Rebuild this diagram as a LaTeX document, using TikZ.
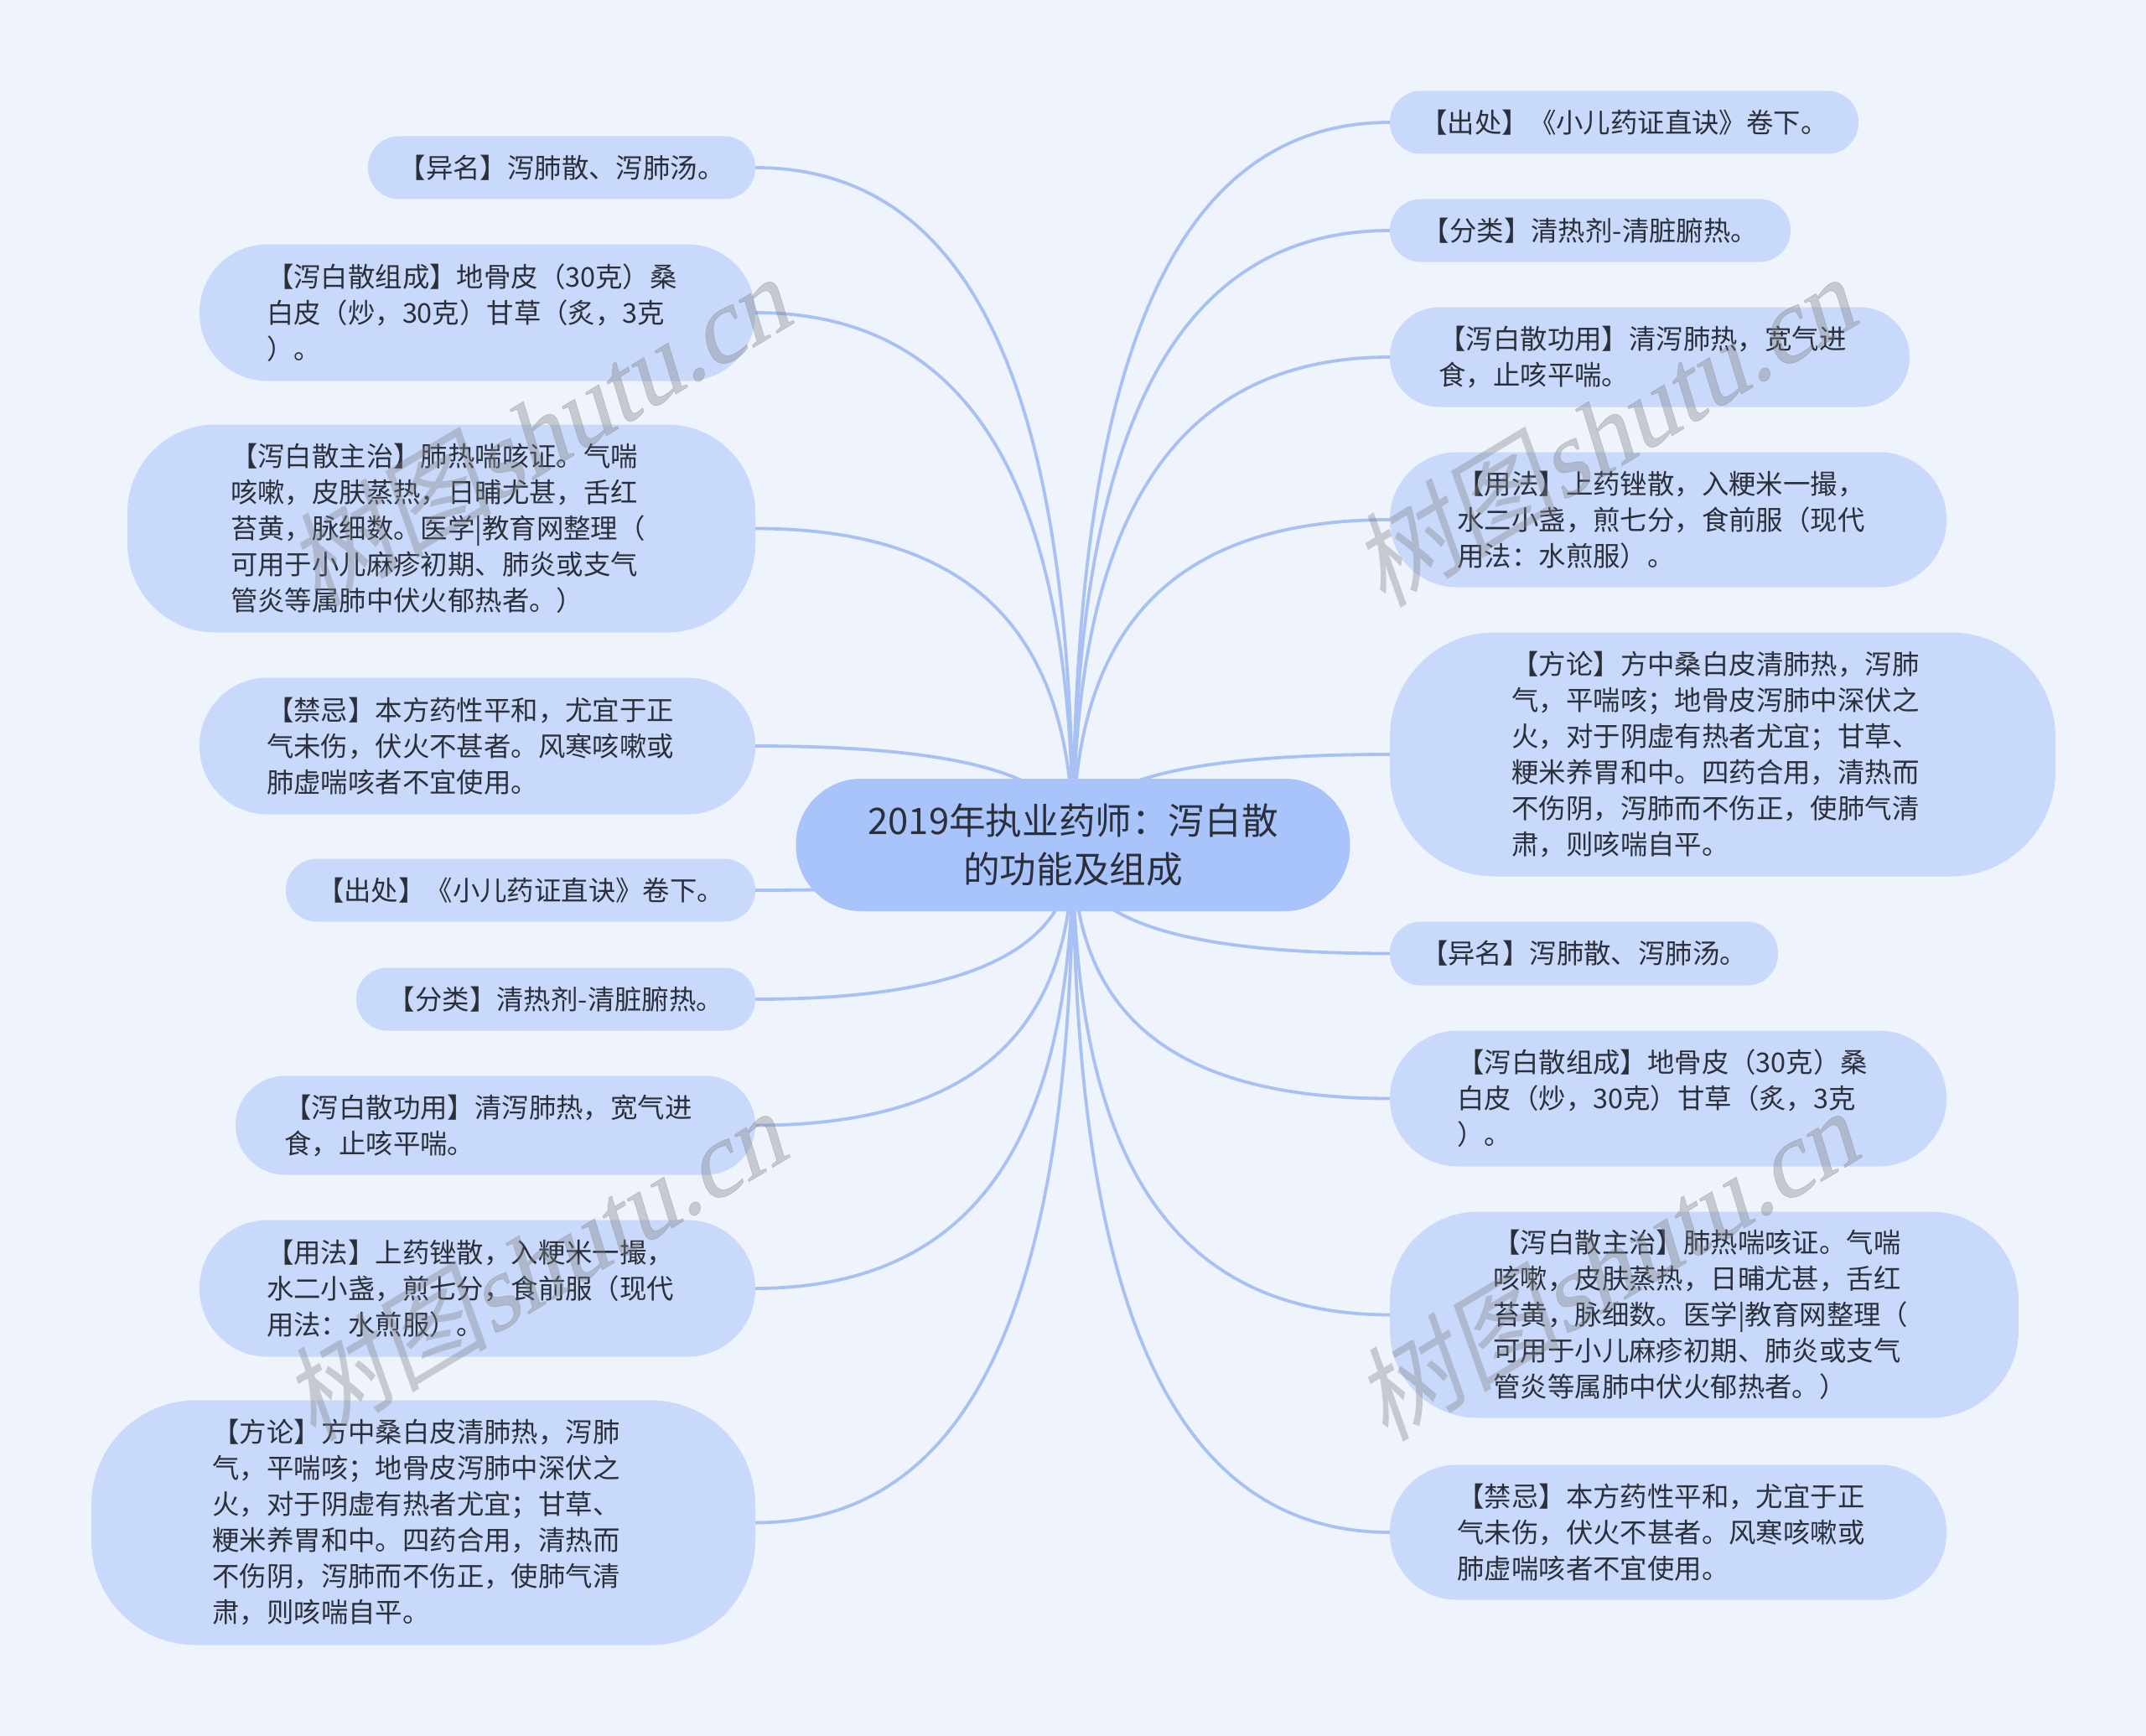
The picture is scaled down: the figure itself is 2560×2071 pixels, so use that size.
\documentclass[tikz,border=0pt]{standalone}
\usepackage{fontspec}
\setmainfont{Noto Sans CJK SC}
\newfontfamily\markcjk[FakeSlant=0.2]{Noto Sans CJK SC}
\newfontfamily\marklatin[FakeSlant=0.25,FakeBold=0.5]{Liberation Serif}
\usetikzlibrary{backgrounds,calc}
\definecolor{pagecol}{HTML}{EEF3FC}
\definecolor{leafcol}{HTML}{C9D9FB}
\definecolor{rootcol}{HTML}{A9C3FB}
\definecolor{linecol}{HTML}{A8C1F2}
\definecolor{inkcol}{HTML}{2B2F3A}
\newcommand{\stampword}{{\markcjk\fontsize{124}{124}\selectfont 树图}{\marklatin\fontsize{124}{124}\selectfont shutu.cn}}

\begin{document}
\begin{tikzpicture}[x=1pt, y=-1pt,
    leaf/.style={fill=leafcol, text=inkcol, font=\fontsize{32.4}{43}\selectfont,
        align=left, inner sep=0pt, outer sep=0pt, yshift=-0.5pt, rounded corners=#1},
    leaf/.default=37pt,
    wrapped/.style={text width=503pt},
    rootbox/.style={fill=rootcol, text=inkcol, font=\fontsize{43.6}{58}\selectfont,
        align=center, inner sep=0pt, outer sep=0pt, rounded corners=78pt,
        minimum width=661pt, minimum height=158pt},
    branch/.style={draw=linecol, line width=3.8pt},
    stamp/.style={text=black!50, opacity=0.36, rotate=31, inner sep=0pt},
    ]
    \useasboundingbox (0,0) rectangle (2560,2071);
    \node[rootbox] (root) at (1280,1008) {2019年执业药师：泻白散\\的功能及组成};

    % left side
    \node[leaf, minimum width=462pt, minimum height=75pt] (lAlias) at (670,199.5) {【异名】泻肺散、泻肺汤。};
    \node[leaf=81pt, wrapped, minimum width=663pt, minimum height=163pt] (lMix) at (569.5,372.5) {【泻白散组成】地骨皮（30克）桑\\白皮（炒，30克）甘草（炙，3克\\）。};
    \node[leaf=105pt, wrapped, minimum width=749pt, minimum height=248pt] (lCure) at (526.5,630) {【泻白散主治】肺热喘咳证。气喘\\咳嗽，皮肤蒸热，日晡尤甚，舌红\\苔黄，脉细数。医学|教育网整理（\\可用于小儿麻疹初期、肺炎或支气\\管炎等属肺中伏火郁热者。）};
    \node[leaf=81pt, wrapped, minimum width=663pt, minimum height=163pt] (lBan) at (569.5,889.5) {【禁忌】本方药性平和，尤宜于正\\气未伤，伏火不甚者。风寒咳嗽或\\肺虚喘咳者不宜使用。};
    \node[leaf, minimum width=560pt, minimum height=75pt] (lSource) at (621,1061.5) {【出处】《小儿药证直诀》卷下。};
    \node[leaf, minimum width=476pt, minimum height=75pt] (lKind) at (663,1191.5) {【分类】清热剂-清脏腑热。};
    \node[leaf=59pt, wrapped, minimum width=620pt, minimum height=118pt] (lUse) at (591,1342) {【泻白散功用】清泻肺热，宽气进\\食，止咳平喘。};
    \node[leaf=81pt, wrapped, minimum width=663pt, minimum height=163pt] (lHow) at (569.5,1536.5) {【用法】上药锉散，入粳米一撮，\\水二小盏，煎七分，食前服（现代\\用法：水煎服）。};
    \node[leaf=125pt, wrapped, minimum width=792pt, minimum height=292pt] (lTalk) at (505,1816) {【方论】方中桑白皮清肺热，泻肺\\气，平喘咳；地骨皮泻肺中深伏之\\火，对于阴虚有热者尤宜；甘草、\\粳米养胃和中。四药合用，清热而\\不伤阴，泻肺而不伤正，使肺气清\\肃，则咳喘自平。};

    % right side
    \node[leaf, minimum width=559pt, minimum height=75pt] (rSource) at (1937.5,145.5) {【出处】《小儿药证直诀》卷下。};
    \node[leaf, minimum width=478pt, minimum height=75pt] (rKind) at (1897,274.5) {【分类】清热剂-清脏腑热。};
    \node[leaf=59pt, wrapped, minimum width=620pt, minimum height=119pt] (rUse) at (1968,425.5) {【泻白散功用】清泻肺热，宽气进\\食，止咳平喘。};
    \node[leaf=80pt, wrapped, minimum width=664pt, minimum height=161pt] (rHow) at (1990,619.5) {【用法】上药锉散，入粳米一撮，\\水二小盏，煎七分，食前服（现代\\用法：水煎服）。};
    \node[leaf=125pt, wrapped, minimum width=794pt, minimum height=291pt] (rTalk) at (2055,899.5) {【方论】方中桑白皮清肺热，泻肺\\气，平喘咳；地骨皮泻肺中深伏之\\火，对于阴虚有热者尤宜；甘草、\\粳米养胃和中。四药合用，清热而\\不伤阴，泻肺而不伤正，使肺气清\\肃，则咳喘自平。};
    \node[leaf, minimum width=463pt, minimum height=76pt] (rAlias) at (1889.5,1137) {【异名】泻肺散、泻肺汤。};
    \node[leaf=81pt, wrapped, minimum width=664pt, minimum height=162pt] (rMix) at (1990,1310) {【泻白散组成】地骨皮（30克）桑\\白皮（炒，30克）甘草（炙，3克\\）。};
    \node[leaf=105pt, wrapped, minimum width=750pt, minimum height=246pt] (rCure) at (2033,1568) {【泻白散主治】肺热喘咳证。气喘\\咳嗽，皮肤蒸热，日晡尤甚，舌红\\苔黄，脉细数。医学|教育网整理（\\可用于小儿麻疹初期、肺炎或支气\\管炎等属肺中伏火郁热者。）};
    \node[leaf=80pt, wrapped, minimum width=664pt, minimum height=161pt] (rBan) at (1990,1827.5) {【禁忌】本方药性平和，尤宜于正\\气未伤，伏火不甚者。风寒咳嗽或\\肺虚喘咳者不宜使用。};

    \begin{scope}[on background layer]
        \fill[pagecol] (0,0) rectangle (2560,2071);
        \foreach \name/\side in {lAlias/east,lMix/east,lCure/east,lBan/east,lSource/east,lKind/east,lUse/east,lHow/east,lTalk/east,
            rSource/west,rKind/west,rUse/west,rHow/west,rTalk/west,rAlias/west,rMix/west,rCure/west,rBan/west}
            \draw[branch] (root.center) .. controls ($(root.center)!0.6!(root.center|-\name.\side)$) and ($(\name.\side)!0.75!(root.center|-\name.\side)$) .. (\name.\side);
    \end{scope}

    \node[stamp] (markA) at (640,515) {\stampword};
    \node[stamp] (markB) at (635,1510) {\stampword};
    \node[stamp] (markC) at (1911,515) {\stampword};
    \node[stamp] (markD) at (1914,1510) {\stampword};
\end{tikzpicture}
\end{document}
